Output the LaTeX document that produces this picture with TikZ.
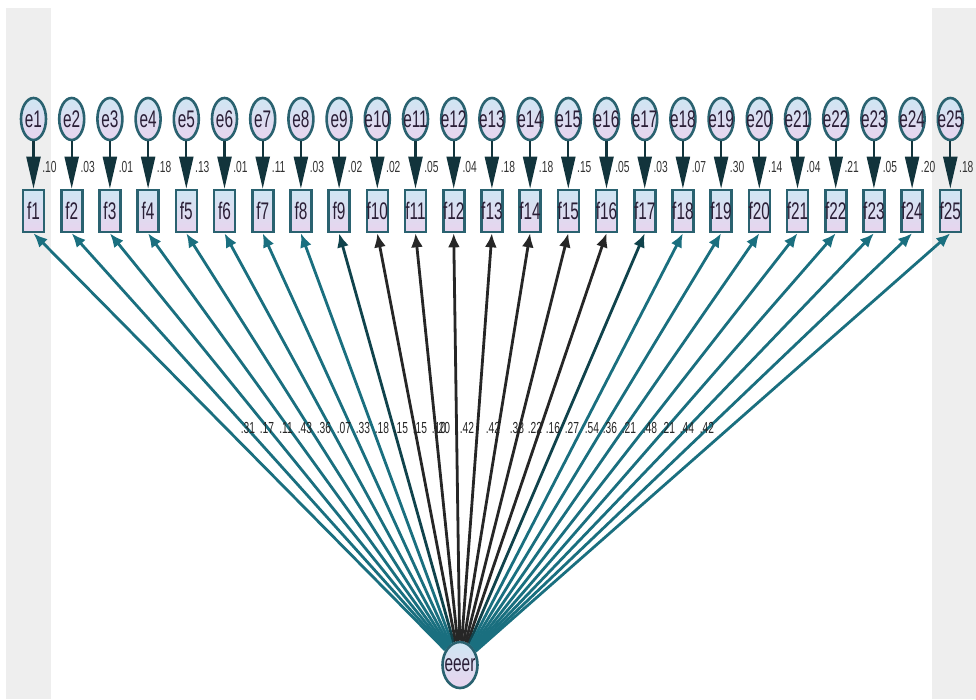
\documentclass[tikz,border=0pt]{standalone}
\usepackage{fontspec}
\setmainfont{Liberation Sans}[FakeStretch=0.64]
\usetikzlibrary{arrows.meta,shapes.geometric}
\definecolor{teal1}{HTML}{1A6F7F}
\definecolor{bord}{HTML}{2A6270}
\definecolor{dark}{HTML}{12343C}
\definecolor{txt}{HTML}{2A1E36}
\definecolor{lav}{HTML}{E8D4EE}
\definecolor{lblue}{HTML}{CFE6F3}
\definecolor{strip}{HTML}{EEEEEE}
\definecolor{labc}{HTML}{333333}
\begin{document}
\begin{tikzpicture}[x=1pt,y=-1pt,
  evar/.style={ellipse, draw=bord, line width=2.6pt, top color=lblue, bottom color=lav,
    minimum width=25pt, minimum height=42pt, inner sep=0pt},
  obs/.style={rectangle, draw=bord, line width=2.6pt, top color=lblue, bottom color=lav,
    minimum width=21pt, minimum height=42pt, inner sep=0pt},
  ntext/.style={inner sep=0pt, font=\fontsize{24}{24}\selectfont, text=txt},
  elab/.style={inner sep=0pt, font=\fontsize{16}{16}\selectfont, text=labc},
  flab/.style={inner sep=0pt, font=\fontsize{16}{16}\selectfont, text=black!85},
  earrow/.style={draw=dark, line width=2.2pt, -{Triangle[length=32pt,width=14pt]}},
  farrow/.style={line width=2.8pt, -{Latex[length=14pt,width=12pt]}}
]
\useasboundingbox (0,0) rectangle (976,699);
\fill[strip] (6,8) rectangle (51,699);
\fill[strip] (932,8) rectangle (976,699);

% latent factor
\node[evar, minimum width=35pt, minimum height=46pt] (eeer) at (460,665) {};
\node[ntext] (eeertxt) at (eeer) {eeer};

\foreach \i/\el in {1/.10,2/.03,3/.01,4/.18,5/.13,6/.01,7/.11,8/.03,9/.02,10/.02,11/.05,12/.04,13/.18,14/.18,15/.15,16/.05,17/.03,18/.07,19/.30,20/.14,21/.04,22/.21,23/.05,24/.20,25/.18}{
  \pgfmathsetmacro{\xx}{33.5+38.2*(\i-1)}
  \node[evar] (e\i) at (\xx,119) {};
  \node[ntext] (et\i) at (e\i) {e\i};
  \node[obs] (f\i) at (\xx,211) {};
  \node[ntext] (ft\i) at (f\i) {f\i};
  \draw[earrow] (e\i) -- (f\i);
  \node[elab] (el\i) at (\xx+16,167) {\el};
}

% loadings from eeer
\foreach \i/\c in {1/teal1,2/teal1,3/teal1,4/teal1,5/teal1,6/teal1,7/teal1,8/teal1,
  9/teal1!60!black,10/black!85,11/black!85,12/black!85,13/black!85,14/black!85,15/black!85,16/black!85,
  17/teal1!60!black,18/teal1,19/teal1,20/teal1,21/teal1,22/teal1,23/teal1,24/teal1,25/teal1}{
  \draw[farrow, draw=\c, fill=\c] (eeer) -- (f\i.south);
}

\foreach \i/\xx/\t in {1/248/.31,2/267/.17,3/286/.11,4/305/.43,5/324/.36,6/344/.07,7/363/.33,
  8/382/.18,9/401/.15,10/420/.15,11/439/.10,12/443/.20,13/467/.42,14/493/.42,15/517/.38,
  16/535/.22,17/553/.16,18/572/.27,19/592/.54,20/610/.36,21/629/.21,22/650/.48,23/668/.21,
  24/687/.44,25/707/.42}{
  \node[flab] (fl\i) at (\xx,428) {\t};
}
\end{tikzpicture}
\end{document}
